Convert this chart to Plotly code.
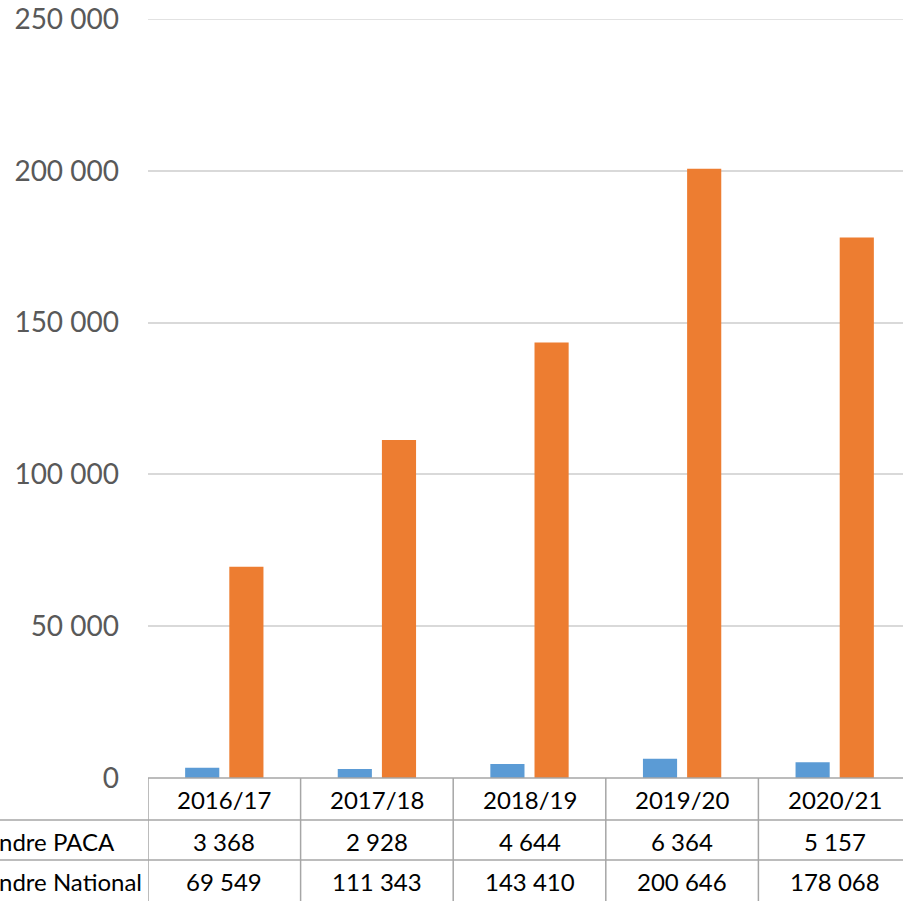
import plotly.graph_objects as go

categories = ["2016/17", "2017/18", "2018/19", "2019/20", "2020/21"]
series_names = ["ndre PACA", "ndre National"]
paca = [3368, 2928, 4644, 6364, 5157]
national = [69549, 111343, 143410, 200646, 178068]
tick_vals = [0, 50000, 100000, 150000, 200000, 250000]
tick_text = ["0", "50 000", "100 000", "150 000", "200 000", "250 000"]

W, H = 903, 901
ML, MR, MT, MB = 148, 0, 19, 123
PW = W - ML - MR
PH = H - MT - MB
CAT_W = 152.6

def fmt(v):
    return f"{v:,}".replace(",", " ")

def px_x(x):
    return (x - ML) / PW

def px_y(y):
    return (H - MB - y) / PH

fig = go.Figure()
fig.add_trace(go.Bar(x=list(range(len(categories))), y=paca, name=series_names[0],
                     marker=dict(color="#5B9BD5", line=dict(width=0))))
fig.add_trace(go.Bar(x=list(range(len(categories))), y=national, name=series_names[1],
                     marker=dict(color="#ED7D31", line=dict(width=0))))

grid_col = "#D9D9D9"
line_col = "#A6A6A6"
shapes = []
# top gridline (at the range edge)
shapes.append(dict(type="line", xref="paper", yref="y", x0=0, x1=1,
                   y0=tick_vals[-1], y1=tick_vals[-1], layer="below",
                   line=dict(color=grid_col, width=1.5)))
# table lines
shapes.append(dict(type="line", xref="paper", yref="paper", x0=0, x1=1, y0=0, y1=0,
                   line=dict(color=line_col, width=1.5)))
for py in [820, 860]:
    shapes.append(dict(type="line", xref="paper", yref="paper", x0=px_x(0), x1=1,
                       y0=px_y(py), y1=px_y(py), line=dict(color=line_col, width=1.5)))
for i in range(len(categories) + 1):
    shapes.append(dict(type="line", xref="x", yref="paper", x0=i - 0.5, x1=i - 0.5,
                       y0=0, y1=px_y(H + 2), line=dict(color=line_col, width=1.5)))

annotations = []
tfont = dict(family="Lato", size=24, color="#000000")
row_y = [800, 841, 881]
for i, c in enumerate(categories):
    annotations.append(dict(x=i, y=px_y(row_y[0]), xref="x", yref="paper", text=c,
                            showarrow=False, font=tfont, xanchor="center", yanchor="middle"))
    annotations.append(dict(x=i, y=px_y(row_y[1]), xref="x", yref="paper", text=fmt(paca[i]),
                            showarrow=False, font=tfont, xanchor="center", yanchor="middle"))
    annotations.append(dict(x=i, y=px_y(row_y[2]), xref="x", yref="paper", text=fmt(national[i]),
                            showarrow=False, font=tfont, xanchor="center", yanchor="middle"))
for k, name in enumerate(series_names):
    annotations.append(dict(x=px_x(-3), y=px_y(row_y[k + 1]), xref="paper", yref="paper",
                            text=name, showarrow=False, font=tfont,
                            xanchor="left", yanchor="middle"))

fig.update_layout(
    width=W, height=H,
    margin=dict(l=ML, r=MR, t=MT, b=MB, pad=0),
    paper_bgcolor="white", plot_bgcolor="white",
    showlegend=False,
    barmode="group", bargap=0.421, bargroupgap=0.227,
    shapes=shapes, annotations=annotations,
    xaxis=dict(range=[-0.5, -0.5 + PW / CAT_W], showticklabels=False, showgrid=False,
               zeroline=False, showline=False, fixedrange=True),
    yaxis=dict(range=[0, 250000], tickvals=tick_vals, ticktext=tick_text,
               showgrid=True, gridcolor=grid_col, gridwidth=1.5, zeroline=False,
               showline=False, ticks="", ticklabelstandoff=28,
               tickfont=dict(family="Lato", size=28, color="#595959")),
)

fig.write_html("out.html", config={"displayModeBar": False},
               post_script="document.body.style.margin='0px';document.body.style.overflow='hidden';")
